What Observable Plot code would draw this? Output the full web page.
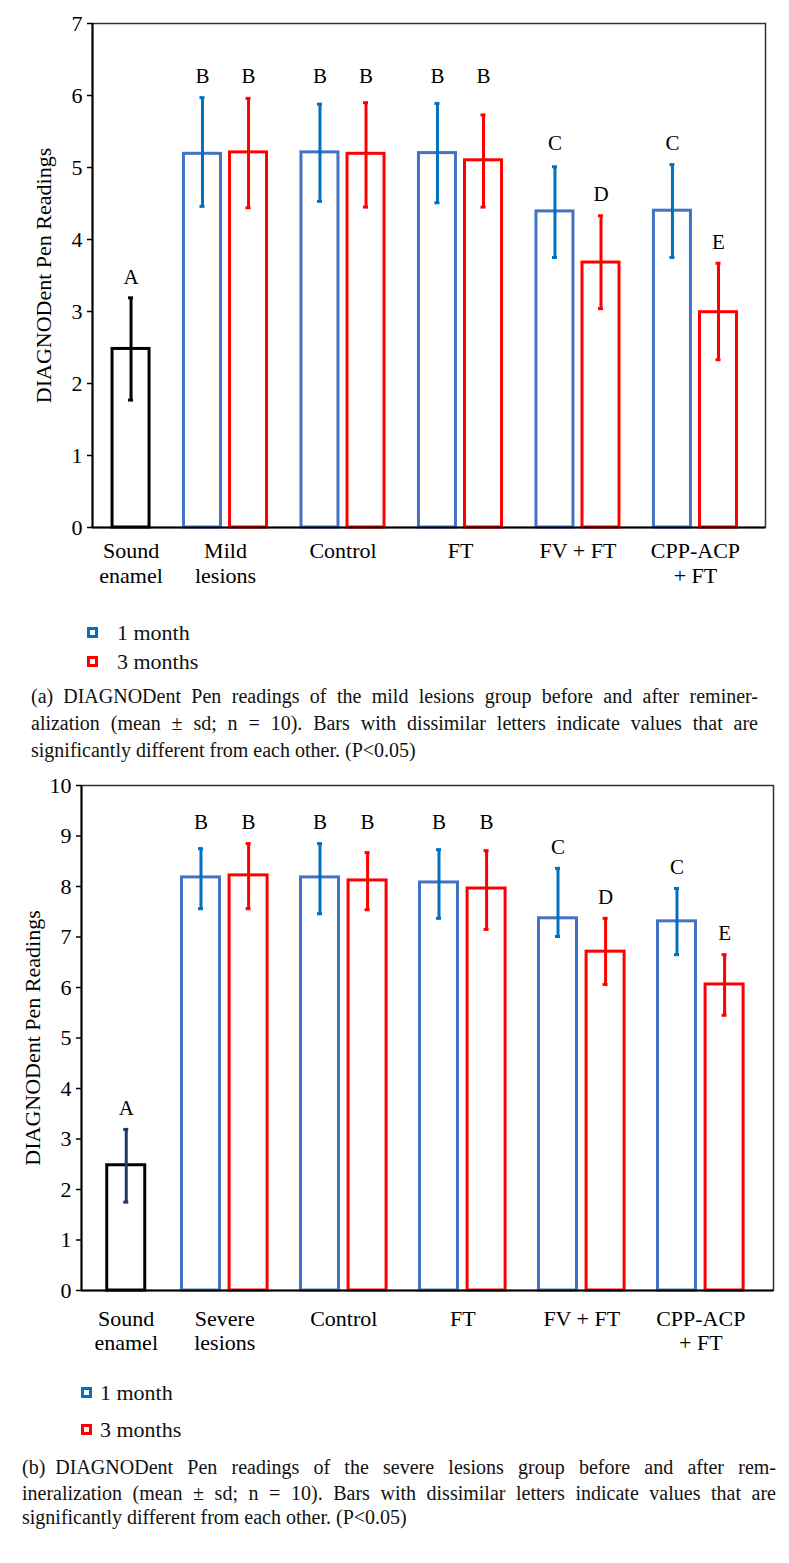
<!DOCTYPE html>
<html>
<head>
<meta charset="utf-8">
<script src="https://cdn.jsdelivr.net/npm/d3@7"></script>
<script src="https://cdn.jsdelivr.net/npm/@observablehq/plot@0.6"></script>
<style>
  html, body { margin: 0; padding: 0; background: #fff; }
  #root { position: relative; width: 789px; height: 1563px; font-family: "Liberation Serif", "Times New Roman", serif; color: #111; }
  .abs { position: absolute; }
  .sq { position: absolute; width: 11px; height: 11px; box-sizing: border-box; border: 3px solid; background: #fff; }
  .lg { position: absolute; font-size: 22px; line-height: 24px; white-space: nowrap; }
  .cap { position: absolute; font-size: 20px; line-height: 24px; white-space: nowrap; text-align: justify; text-align-last: justify; }
  .cap.last { text-align-last: left; }
</style>
</head>
<body>
<div id="root">
  <div id="chartA" class="abs" style="left:0;top:0"></div>
  <div class="sq" style="left:87px;top:627px;border-color:#0070C0"></div>
  <div class="lg" style="left:117px;top:621px">1 month</div>
  <div class="sq" style="left:87px;top:656px;border-color:#FF0000"></div>
  <div class="lg" style="left:117px;top:650px">3 months</div>
  <div id="capA"></div>

  <div id="chartB" class="abs" style="left:0;top:770px"></div>
  <div class="sq" style="left:81px;top:1387px;border-color:#0070C0"></div>
  <div class="lg" style="left:100px;top:1381px">1 month</div>
  <div class="sq" style="left:81px;top:1424px;border-color:#FF0000"></div>
  <div class="lg" style="left:100px;top:1418px">3 months</div>
  <div id="capB"></div>
</div>
<script>
// ---------- Data ----------
const yLabel = "DIAGNODent Pen Readings";
const seriesNames = ["1 month", "3 months"];

// Panel (a): mild lesions
const groupsA = ["Sound\nenamel", "Mild\nlesions", "Control", "FT", "FV + FT", "CPP-ACP\n+ FT"];
const soundA = { mean: 2.48, lo: 1.77, hi: 3.19, letter: "A" };
const m1MeanA = [5.19, 5.21, 5.20, 4.39, 4.40];
const m1HiA   = [5.97, 5.88, 5.89, 5.01, 5.04];
const m1LoA   = [4.46, 4.53, 4.51, 3.75, 3.75];
const m1LetA  = ["B", "B", "B", "C", "C"];
const m3MeanA = [5.21, 5.19, 5.10, 3.68, 2.99];
const m3HiA   = [5.96, 5.90, 5.73, 4.33, 3.67];
const m3LoA   = [4.44, 4.45, 4.45, 3.04, 2.33];
const m3LetA  = ["B", "B", "B", "D", "E"];
const yTicksA = [0, 1, 2, 3, 4, 5, 6, 7];

// Panel (b): severe lesions
const groupsB = ["Sound\nenamel", "Severe\nlesions", "Control", "FT", "FV + FT", "CPP-ACP\n+ FT"];
const soundB = { mean: 2.48, lo: 1.75, hi: 3.19, letter: "A" };
const m1MeanB = [8.18, 8.18, 8.08, 7.37, 7.31];
const m1HiB   = [8.75, 8.85, 8.73, 8.36, 7.96];
const m1LoB   = [7.56, 7.46, 7.37, 7.01, 6.65];
const m1LetB  = ["B", "B", "B", "C", "C"];
const m3MeanB = [8.22, 8.12, 7.96, 6.71, 6.06];
const m3HiB   = [8.85, 8.67, 8.71, 7.37, 6.65];
const m3LoB   = [7.56, 7.54, 7.15, 6.06, 5.45];
const m3LetB  = ["B", "B", "B", "D", "E"];
const yTicksB = [0, 1, 2, 3, 4, 5, 6, 7, 8, 9, 10];

const captionA = [
  "(a)\u2002DIAGNODent Pen readings of the mild lesions group before and after reminer-",
  "alization (mean \u00b1 sd; n = 10). Bars with dissimilar letters indicate values that are",
  "significantly different from each other. (P<0.05)"
];
const captionB = [
  "(b)\u2002DIAGNODent Pen readings of the severe lesions group before and after rem-",
  "ineralization (mean \u00b1 sd; n = 10). Bars with dissimilar letters indicate values that are",
  "significantly different from each other. (P<0.05)"
];

// ---------- Styles ----------
const barStroke = { sound: "#000000", "1 month": "#4472C4", "3 months": "#FF0000" };
const FONT = "'Liberation Serif', 'Times New Roman', serif";

function buildBars(cfg) {
  const bars = [];
  bars.push({ series: "sound", pos: cfg.soundPos, mean: cfg.sound.mean, lo: cfg.sound.lo, hi: cfg.sound.hi, letter: cfg.sound.letter });
  cfg.m1Mean.forEach((v, i) => bars.push({ series: seriesNames[0], pos: i + 1 - cfg.off, mean: v, lo: cfg.m1Lo[i], hi: cfg.m1Hi[i], letter: cfg.m1Let[i] }));
  cfg.m3Mean.forEach((v, i) => bars.push({ series: seriesNames[1], pos: i + 1 + cfg.off, mean: v, lo: cfg.m3Lo[i], hi: cfg.m3Hi[i], letter: cfg.m3Let[i] }));
  for (const b of bars) {
    if (cfg.aligned.includes(b.letter)) {
      b.letterY = d3.max(bars.filter(o => o.letter === b.letter), o => o.hi);
    } else b.letterY = b.hi;
  }
  return bars;
}

function panel(cfg) {
  const bars = buildBars(cfg);
  const labels = cfg.groups.map((g, i) => ({ text: g, pos: i === 0 ? cfg.soundPos : i }));
  const pxPerUnit = (cfg.width - cfg.marginLeft - cfg.marginRight) / (cfg.xDomain[1] - cfg.xDomain[0]);
  const hw = cfg.barPx / 2 / pxPerUnit;
  const cap = 2.5 / pxPerUnit;
  const errStroke = d => d.series === "sound" ? cfg.soundErr : (d.series === seriesNames[0] ? "#0070C0" : "#FF0000");
  return Plot.plot({
    width: cfg.width, height: cfg.height,
    marginLeft: cfg.marginLeft, marginRight: cfg.marginRight,
    marginTop: cfg.marginTop, marginBottom: cfg.marginBottom,
    x: { domain: cfg.xDomain, axis: null },
    y: { domain: [0, cfg.yTicks[cfg.yTicks.length - 1]], axis: null },
    color: { type: "identity" },
    style: { fontFamily: FONT, fontSize: "22px", background: "#fff", color: "#000" },
    marks: [
      Plot.frame({ stroke: "#333", strokeWidth: 1.5 }),
      Plot.rectY(bars, { x1: d => d.pos - hw, x2: d => d.pos + hw, y1: 0, y2: "mean",
        fill: "#fff", stroke: d => barStroke[d.series], strokeWidth: 3 }),
      Plot.ruleX(bars, { x: "pos", y1: "lo", y2: "hi", stroke: errStroke, strokeWidth: 3 }),
      Plot.ruleY(bars, { y: "hi", x1: d => d.pos - cap, x2: d => d.pos + cap, stroke: errStroke, strokeWidth: 3 }),
      Plot.ruleY(bars, { y: "lo", x1: d => d.pos - cap, x2: d => d.pos + cap, stroke: errStroke, strokeWidth: 3 }),
      Plot.text(bars, { x: "pos", y: "letterY", text: "letter", dy: -21, fontSize: 21, fill: "#000" }),
      Plot.ruleY([0], { stroke: "#000", strokeWidth: 2 }),
      Plot.ruleX([cfg.xDomain[0]], { stroke: "#000", strokeWidth: 2 }),
      Plot.axisY({ ticks: cfg.yTicks, tickSize: 5, tickPadding: 5, fontSize: 22, label: null, tickFormat: d => String(d), strokeWidth: 1.5 }),
      Plot.text(labels, { x: "pos", y: 0, text: "text", lineAnchor: "top", dy: cfg.labelDy,
        lineHeight: cfg.labelLH, fontSize: 22, fill: "#000" }),
      Plot.text([yLabel], { text: d => d, frameAnchor: "left", textAnchor: "middle", lineAnchor: "middle",
        rotate: -90, dx: cfg.yLabelDx, fontSize: 22, fill: "#000" })
    ]
  });
}

const chartA = panel({
  width: 789, height: 590, marginLeft: 92, marginRight: 24, marginTop: 23, marginBottom: 63,
  xDomain: [-0.132, 5.596], off: 0.196, soundPos: 0.196, barPx: 37,
  groups: groupsA, sound: soundA,
  m1Mean: m1MeanA, m1Hi: m1HiA, m1Lo: m1LoA, m1Let: m1LetA,
  m3Mean: m3MeanA, m3Hi: m3HiA, m3Lo: m3LoA, m3Let: m3LetA,
  yTicks: yTicksA, aligned: ["B", "C"], soundErr: "#000000",
  labelDy: 13, labelLH: 1.14, yLabelDx: -49
});
document.getElementById("chartA").appendChild(chartA);

const chartB = panel({
  width: 789, height: 590, marginLeft: 81, marginRight: 16, marginTop: 15, marginBottom: 70,
  xDomain: [-0.204, 5.611], off: 0.2, soundPos: 0.172, barPx: 38,
  groups: groupsB, sound: soundB,
  m1Mean: m1MeanB, m1Hi: m1HiB, m1Lo: m1LoB, m1Let: m1LetB,
  m3Mean: m3MeanB, m3Hi: m3HiB, m3Lo: m3LoB, m3Let: m3LetB,
  yTicks: yTicksB, aligned: ["B"], soundErr: "#1F3864",
  labelDy: 18, labelLH: 1.09, yLabelDx: -49
});
document.getElementById("chartB").appendChild(chartB);

function caption(el, lines, left, right, centers) {
  lines.forEach((t, i) => {
    const d = document.createElement("div");
    d.className = "cap" + (i === lines.length - 1 ? " last" : "");
    d.style.left = left + "px";
    d.style.top = (centers[i] - 12) + "px";
    if (i < lines.length - 1) d.style.width = (right - left) + "px";
    d.textContent = t;
    el.appendChild(d);
  });
}
caption(document.getElementById("capA"), captionA, 31, 758, [696, 723, 750]);
caption(document.getElementById("capB"), captionB, 22, 776, [1467, 1493, 1517]);
</script>
</body>
</html>
